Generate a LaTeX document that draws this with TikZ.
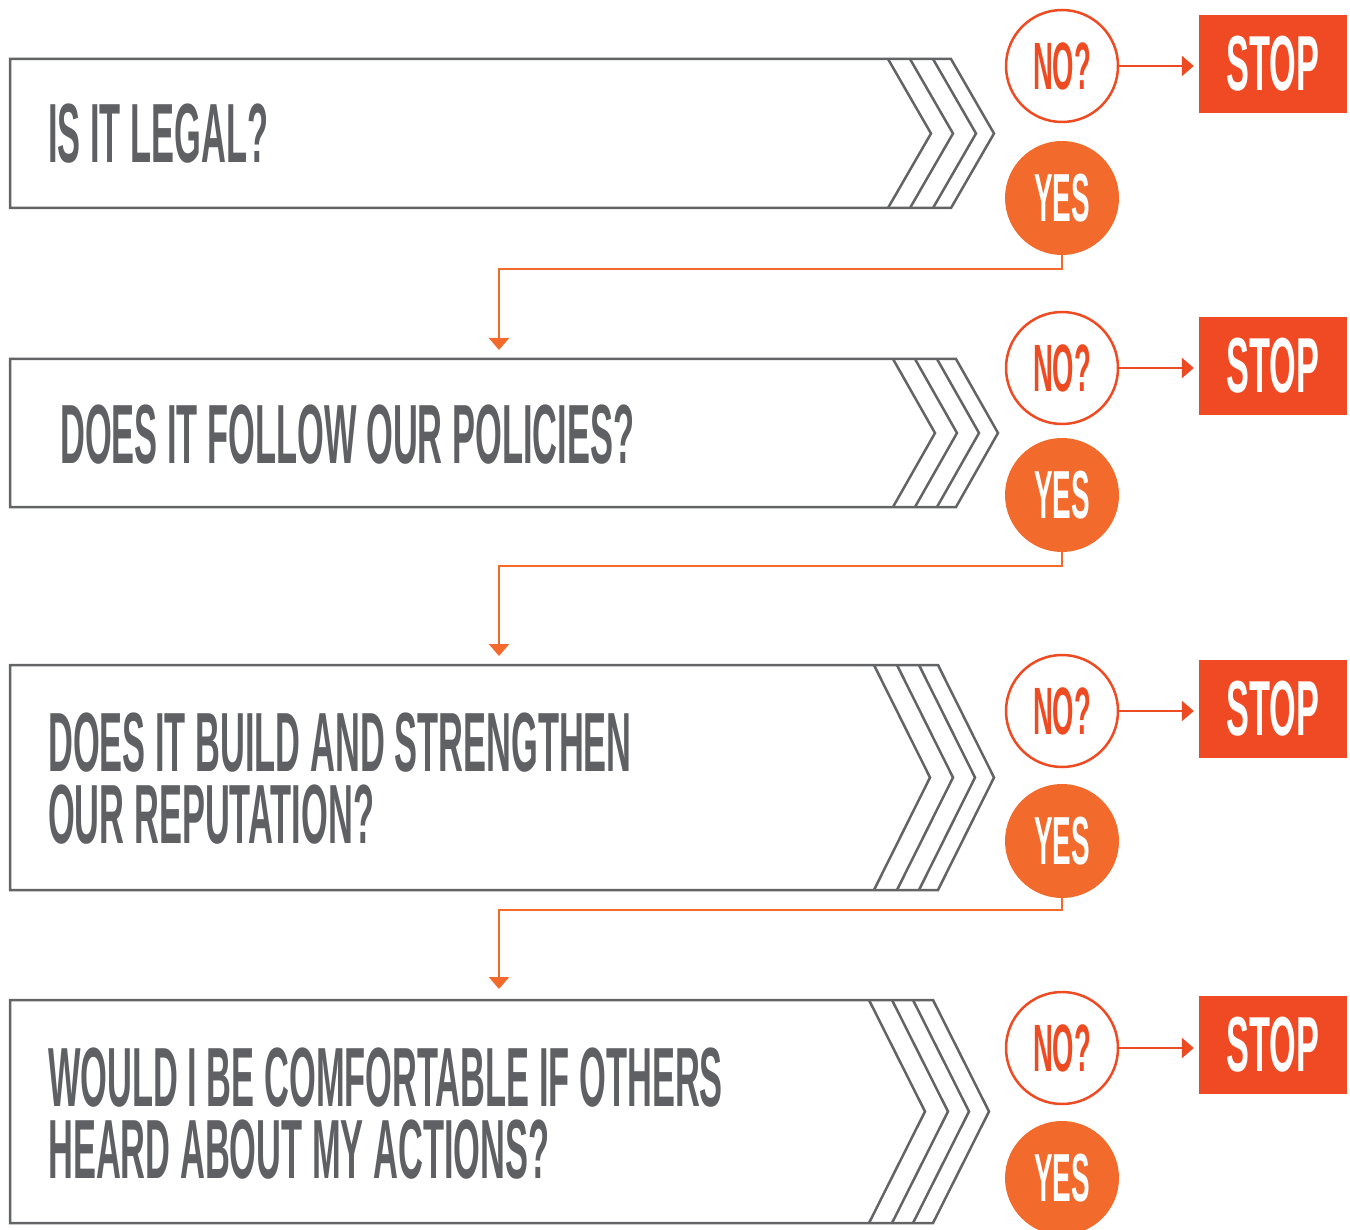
\documentclass[tikz,border=0pt]{standalone}
\usepackage{fontspec}
\usetikzlibrary{arrows.meta}
\newfontfamily\condfont{Liberation Sans}[FakeStretch=0.41]
\newfontfamily\stopfont{Liberation Sans}[FakeStretch=0.44]
\definecolor{boxgray}{HTML}{636466}
\definecolor{txtgray}{HTML}{5F6064}
\definecolor{nored}{HTML}{EE4B23}
\definecolor{stopred}{HTML}{EF4A23}
\definecolor{yesor}{HTML}{F26A2C}
\newcommand\chevbox[7]{%
  \pgfmathsetmacro\midy{(#1+#2)/2}
  \draw[boxline] (10,#1) -- (#6,#1) -- (#6+#7,\midy) -- (#6,#2) -- (10,#2) -- cycle;
  \foreach \xx in {#3,#4,#5} \draw[boxline] (\xx,#1) -- (\xx+#7,\midy) -- (\xx,#2);
}
\begin{document}
\begin{tikzpicture}[x=1pt,y=-1pt,
  boxline/.style={draw=boxgray, line width=2.5pt, line join=miter},
  qtext/.style={anchor=west, inner sep=0pt, text=txtgray, align=left,
    font=\condfont\bfseries\fontsize{84}{72}\selectfont},
  nobub/.style={circle, draw=nored, line width=2.5pt, fill=white, minimum size=112pt,
    inner sep=0pt, text=nored, font=\condfont\bfseries\fontsize{67}{67}\selectfont},
  yesbub/.style={circle, fill=yesor, minimum size=114pt, inner sep=0pt, text=white,
    font=\condfont\bfseries\fontsize{68}{68}\selectfont},
  stopbox/.style={rectangle, fill=stopred, minimum width=148pt, minimum height=98pt,
    inner sep=0pt, text=white, font=\stopfont\bfseries\fontsize{78}{78}\selectfont},
  conn/.style={draw=yesor, line width=2.5pt, -{Triangle[length=12pt,width=20pt]}},
  noarrow/.style={draw=nored, line width=2.5pt, -{Triangle[length=12pt,width=20pt]}, shorten >=5pt}
]
\useasboundingbox (0,0) rectangle (1350,1230);

% question boxes
\chevbox{59}{208}{888}{910}{933}{951}{43}
\chevbox{359}{507}{893}{915}{937}{956}{42}
\chevbox{665}{890}{874}{897}{919}{938}{56}
\chevbox{1000}{1223}{869}{892}{913}{933}{56}

\coordinate (b2top) at (499,359);
\coordinate (b3top) at (499,665);
\coordinate (b4top) at (499,1000);

\node[qtext] (q1) at (48,134) {IS IT LEGAL?};
\node[qtext] (q2) at (60,435) {DOES IT FOLLOW OUR POLICIES?};
\node[qtext] (q3) at (48,779) {DOES IT BUILD AND STRENGTHEN\\OUR REPUTATION?};
\node[qtext] (q4) at (48,1114) {WOULD I BE COMFORTABLE IF OTHERS\\HEARD ABOUT MY ACTIONS?};

% bubbles and stops
\node[nobub] (no1) at (1062,66) {NO?};
\node[yesbub] (yes1) at (1062,198) {YES};
\node[stopbox] (stop1) at (1273,64) {STOP};

\node[nobub] (no2) at (1062,368) {NO?};
\node[yesbub] (yes2) at (1062,495) {YES};
\node[stopbox] (stop2) at (1273,366) {STOP};

\node[nobub] (no3) at (1062,711) {NO?};
\node[yesbub] (yes3) at (1062,841) {YES};
\node[stopbox] (stop3) at (1273,709) {STOP};

\node[nobub] (no4) at (1062,1048) {NO?};
\node[yesbub] (yes4) at (1062,1178) {YES};
\node[stopbox] (stop4) at (1273,1045) {STOP};

% connectors
\draw[noarrow] (no1.east) -- (no1.east -| stop1.west);
\draw[noarrow] (no2.east) -- (no2.east -| stop2.west);
\draw[noarrow] (no3.east) -- (no3.east -| stop3.west);
\draw[noarrow] (no4.east) -- (no4.east -| stop4.west);

\draw[conn, shorten >=9pt] (yes1.south) -- ++(0,14) -| (b2top);
\draw[conn, shorten >=9pt] (yes2.south) -- ++(0,14) -| (b3top);
\draw[conn, shorten >=11pt] (yes3.south) -- ++(0,12) -| (b4top);
\end{tikzpicture}
\end{document}
